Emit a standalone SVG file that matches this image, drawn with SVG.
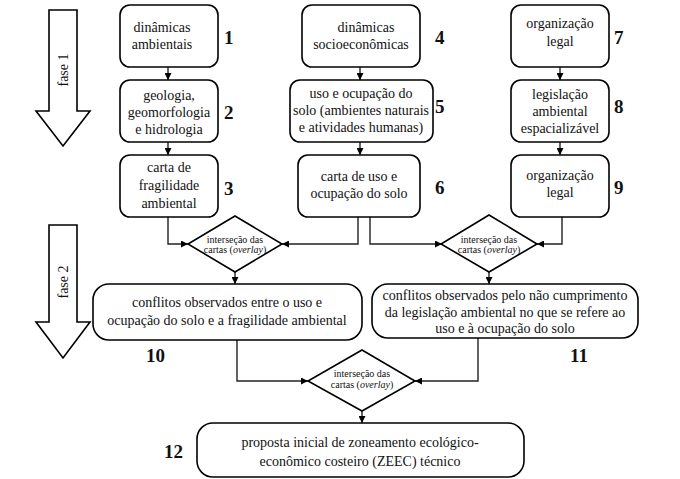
<svg xmlns="http://www.w3.org/2000/svg" width="680" height="479" viewBox="0 0 680 479">
<style>
.b{fill:#fff;stroke:#000;stroke-width:1.6}
.t{font-family:"Liberation Serif",serif;font-size:14px;text-anchor:middle;fill:#111}
.s{font-family:"Liberation Serif",serif;font-size:10px;text-anchor:middle;fill:#111}
.n{font-family:"Liberation Serif",serif;font-size:19px;font-weight:bold;fill:#111}
.c{fill:none;stroke:#222;stroke-width:1.4;marker-end:url(#a)}
</style>
<defs><marker id="a" viewBox="0 0 10 10" refX="10" refY="5" markerWidth="7" markerHeight="7" orient="auto" markerUnits="userSpaceOnUse"><path d="M0,0L10,5L0,10z" fill="#000"/></marker></defs>
<rect width="680" height="479" fill="#fff"/>
<g id="fase1"><path class="b" d="M49,10H77V111H90L63,146L36,111H49Z"/><text class="t" transform="translate(68,70) rotate(-90)">fase 1</text></g>
<g id="fase2"><path class="b" d="M49,225H77V322H90L63,358L36,322H49Z"/><text class="t" transform="translate(68,282) rotate(-90)">fase 2</text></g>
<g id="connectors">
<path class="c" d="M168,67V80"/><path class="c" d="M168,142V155"/>
<path class="c" d="M360,67V80"/><path class="c" d="M360,142V155"/>
<path class="c" d="M560,67V80"/><path class="c" d="M560,142V155"/>
<path class="c" d="M168,217V244H188"/>
<path class="c" d="M358,217V244H282"/>
<path class="c" d="M370,217V244H442"/>
<path class="c" d="M562,217V244H537"/>
<path class="c" d="M235,272V284"/>
<path class="c" d="M489,272V284"/>
<path class="c" d="M237,340V381H308"/>
<path class="c" d="M478,338V381H415"/>
<path class="c" d="M362,410V423"/>
</g>
<g id="n1"><rect class="b" x="120" y="5" width="98" height="62" rx="10"/><text class="t" x="162" y="32">dinâmicas</text><text class="t" x="162" y="49">ambientais</text><text class="n" x="224" y="44">1</text></g>
<g id="n2"><rect class="b" x="120" y="80" width="98" height="62" rx="10"/><text class="t" x="169" y="100">geologia,</text><text class="t" x="169" y="117">geomorfologia</text><text class="t" x="169" y="134">e hidrologia</text><text class="n" x="224" y="119">2</text></g>
<g id="n3"><rect class="b" x="120" y="155" width="98" height="62" rx="10"/><text class="t" x="169" y="172">carta de</text><text class="t" x="169" y="190">fragilidade</text><text class="t" x="169" y="208">ambiental</text><text class="n" x="224" y="195">3</text></g>
<g id="n4"><rect class="b" x="302" y="5" width="118" height="62" rx="10"/><text class="t" x="366" y="32">dinâmicas</text><text class="t" x="361" y="49">socioeconômicas</text><text class="n" x="435" y="44">4</text></g>
<g id="n5"><rect class="b" x="290" y="80" width="143" height="62" rx="10"/><text class="t" x="361" y="98">uso e ocupação do</text><text class="t" x="361" y="115">solo (ambientes naturais</text><text class="t" x="361" y="132">e atividades humanas)</text><text class="n" x="435" y="113">5</text></g>
<g id="n6"><rect class="b" x="298" y="155" width="122" height="62" rx="10"/><text class="t" x="359" y="181">carta de uso e</text><text class="t" x="359" y="198">ocupação do solo</text><text class="n" x="435" y="194">6</text></g>
<g id="n7"><rect class="b" x="511" y="5" width="98" height="62" rx="10"/><text class="t" x="560" y="28">organização</text><text class="t" x="560" y="46">legal</text><text class="n" x="614" y="44">7</text></g>
<g id="n8"><rect class="b" x="511" y="80" width="98" height="62" rx="10"/><text class="t" x="560" y="99">legislação</text><text class="t" x="560" y="116">ambiental</text><text class="t" x="560" y="133">espacializável</text><text class="n" x="614" y="113">8</text></g>
<g id="n9"><rect class="b" x="511" y="155" width="98" height="62" rx="10"/><text class="t" x="560" y="180">organização</text><text class="t" x="560" y="197">legal</text><text class="n" x="614" y="194">9</text></g>
<g id="d1"><path class="b" d="M235,216L282,244L235,272L188,244Z"/><text class="s" x="235" y="243">interseção das</text><text class="s" x="235" y="253">cartas (<tspan font-style="italic">overlay</tspan>)</text></g>
<g id="d2"><path class="b" d="M489,215L537,244L489,272L441,244Z"/><text class="s" x="489" y="243">interseção das</text><text class="s" x="489" y="253">cartas (<tspan font-style="italic">overlay</tspan>)</text></g>
<g id="d3"><path class="b" d="M362,350L415,381L362,411L308,381Z"/><text class="s" x="362" y="377">interseção das</text><text class="s" x="362" y="388">cartas (<tspan font-style="italic">overlay</tspan>)</text></g>
<g id="n10"><rect class="b" x="93" y="284" width="269" height="56" rx="16"/><text class="t" x="227" y="307">conflitos observados entre o uso e</text><text class="t" x="227" y="325">ocupação do solo e a fragilidade ambiental</text><text class="n" x="146" y="362">10</text></g>
<g id="n11"><rect class="b" x="372" y="284" width="266" height="54" rx="16"/><text class="t" x="505" y="300">conflitos observados pelo não cumprimento</text><text class="t" x="505" y="317">da legislação ambiental no que se refere ao</text><text class="t" x="505" y="333">uso e à ocupação do solo</text><text class="n" x="570" y="362">11</text></g>
<g id="n12"><rect class="b" x="197" y="423" width="327" height="54" rx="16"/><text class="t" x="360" y="447">proposta inicial de zoneamento ecológico-</text><text class="t" x="360" y="466">econômico costeiro (ZEEC) técnico</text><text class="n" x="164" y="458">12</text></g>
</svg>
